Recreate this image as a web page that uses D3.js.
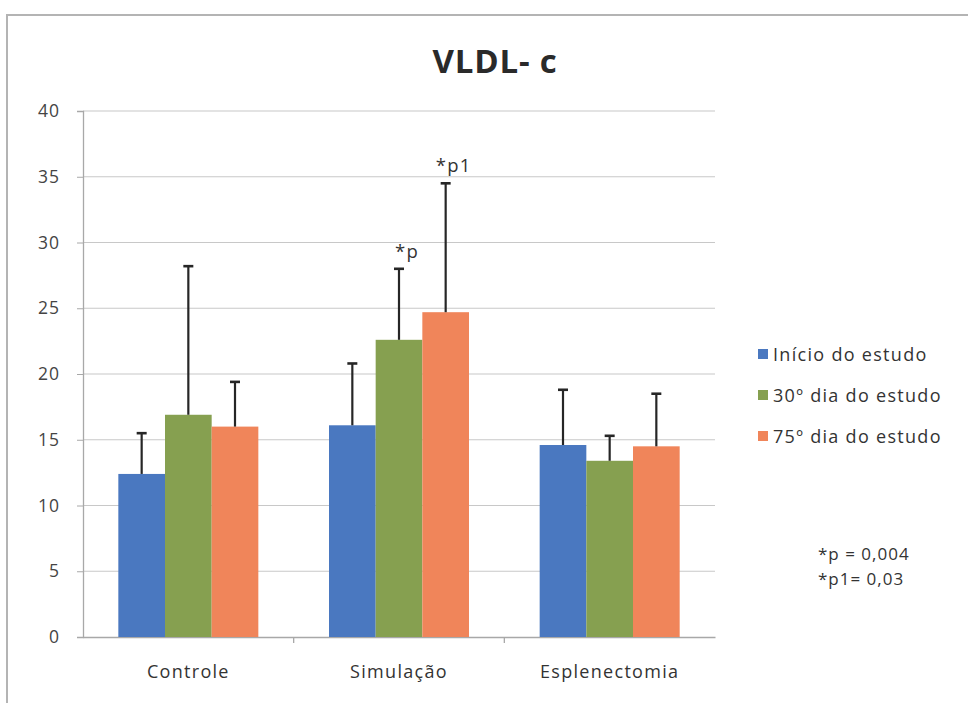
<!DOCTYPE html>
<html><head><meta charset="utf-8">
<script src="https://cdn.jsdelivr.net/npm/d3@7"></script>
<style>body{margin:0;background:#fff}svg{display:block}text{font-family:"Open Sans",Lato,sans-serif}</style>
</head><body><svg id="c" width="968" height="703"></svg>
<script>
const categories = ["Controle", "Simulação", "Esplenectomia"];
const seriesNames = ["Início do estudo", "30º dia do estudo", "75º dia do estudo"];
const seriesColors = ["#4a78c0", "#86a050", "#f0855a"];
const inicio = [12.4, 16.1, 14.6];
const dia30 = [16.9, 22.6, 13.4];
const dia75 = [16.0, 24.7, 14.5];
const inicioErr = [15.5, 20.8, 18.8];
const dia30Err = [28.2, 28.0, 15.3];
const dia75Err = [19.4, 34.5, 18.5];
const yTicks = [0, 5, 10, 15, 20, 25, 30, 35, 40];
const annotations = [{cat: "Simulação", s: 1, text: "*p"}, {cat: "Simulação", s: 2, text: "*p1"}];
const footnotes = ["*p = 0,004", "*p1= 0,03"];

const values = [inicio, dia30, dia75];
const errs = [inicioErr, dia30Err, dia75Err];

const svg = d3.select("#c");
svg.append("path").attr("d", "M7,703 L7,15 L968,15").attr("fill", "none").attr("stroke", "#b4b4b4").attr("stroke-width", 2);

const pL = 83, pR = 715, pT = 111, pB = 637;
const x = d3.scaleBand().domain(categories).range([pL, pR]);
const groupW = 140;
const bw = groupW / 3;
const y = d3.scaleLinear().domain([0, 40]).range([pB, pT]);

svg.append("g").selectAll("line").data(yTicks.filter(d => d > 0)).join("line")
  .attr("x1", pL).attr("x2", pR).attr("y1", d => y(d)).attr("y2", d => y(d))
  .attr("stroke", "#c8c8c8").attr("stroke-width", 1.2);

const ya = svg.append("g").attr("transform", `translate(${pL},0)`)
  .call(d3.axisLeft(y).tickValues(yTicks).tickSize(6).tickPadding(17));
ya.select(".domain").attr("stroke", "#a8a8a8").attr("stroke-width", 1.3);
ya.selectAll(".tick line").attr("stroke", "#a8a8a8");
ya.selectAll("text").attr("font-size", 17.5).attr("letter-spacing", 1).attr("fill", "#444");

const xa = svg.append("g").attr("transform", `translate(0,${pB})`)
  .call(d3.axisBottom(x).tickSize(0).tickPadding(28));
xa.select(".domain").attr("stroke", "#a8a8a8").attr("stroke-width", 1.3);
xa.selectAll("text").attr("font-size", 18).attr("letter-spacing", 1.3).attr("fill", "#333");
svg.append("g").selectAll("line").data(categories.slice(1)).join("line")
  .attr("x1", d => x(d)).attr("x2", d => x(d)).attr("y1", pB).attr("y2", pB + 6)
  .attr("stroke", "#a8a8a8").attr("stroke-width", 1.3);

const barX = (ci, s) => x(categories[ci]) + (x.bandwidth() - groupW) / 2 + s * bw;

values.forEach((arr, s) => {
  svg.append("g").selectAll("rect").data(arr).join("rect")
    .attr("x", (d, i) => barX(i, s)).attr("width", bw)
    .attr("y", d => y(d)).attr("height", d => y(0) - y(d))
    .attr("fill", seriesColors[s]);
});

values.forEach((arr, s) => {
  const g = svg.append("g").attr("stroke", "#262626").attr("stroke-width", 2.2);
  arr.forEach((v, i) => {
    const cx = barX(i, s) + bw / 2;
    g.append("line").attr("x1", cx).attr("x2", cx).attr("y1", y(v)).attr("y2", y(errs[s][i]));
    g.append("line").attr("x1", cx - 5).attr("x2", cx + 5).attr("y1", y(errs[s][i])).attr("y2", y(errs[s][i])).attr("stroke-width", 2.6);
  });
});

annotations.forEach(a => {
  const ci = categories.indexOf(a.cat);
  const cx = barX(ci, a.s) + bw / 2;
  svg.append("text").attr("x", cx + 8).attr("y", y(errs[a.s][ci]) - 11)
    .attr("text-anchor", "middle").attr("font-size", 18.5).attr("letter-spacing", 1.2).attr("fill", "#333").text(a.text);
});

svg.append("text").attr("x", 495).attr("y", 73).attr("text-anchor", "middle")
  .attr("font-size", 33).attr("font-weight", "bold").attr("letter-spacing", 0.8).attr("fill", "#2a2a2a").text("VLDL- c");

const lg = svg.append("g");
seriesNames.forEach((n, i) => {
  const ly = 355 + i * 41;
  lg.append("rect").attr("x", 758).attr("y", ly - 6).attr("width", 10).attr("height", 10).attr("fill", seriesColors[i]);
  lg.append("text").attr("x", 773).attr("y", ly + 6).attr("font-size", 18).attr("letter-spacing", 1.3).attr("fill", "#333").text(n);
});

footnotes.forEach((f, i) => {
  svg.append("text").attr("x", 818).attr("y", 560 + i * 25).attr("font-size", 17).attr("letter-spacing", 1).attr("fill", "#333").text(f);
});
</script></body></html>
